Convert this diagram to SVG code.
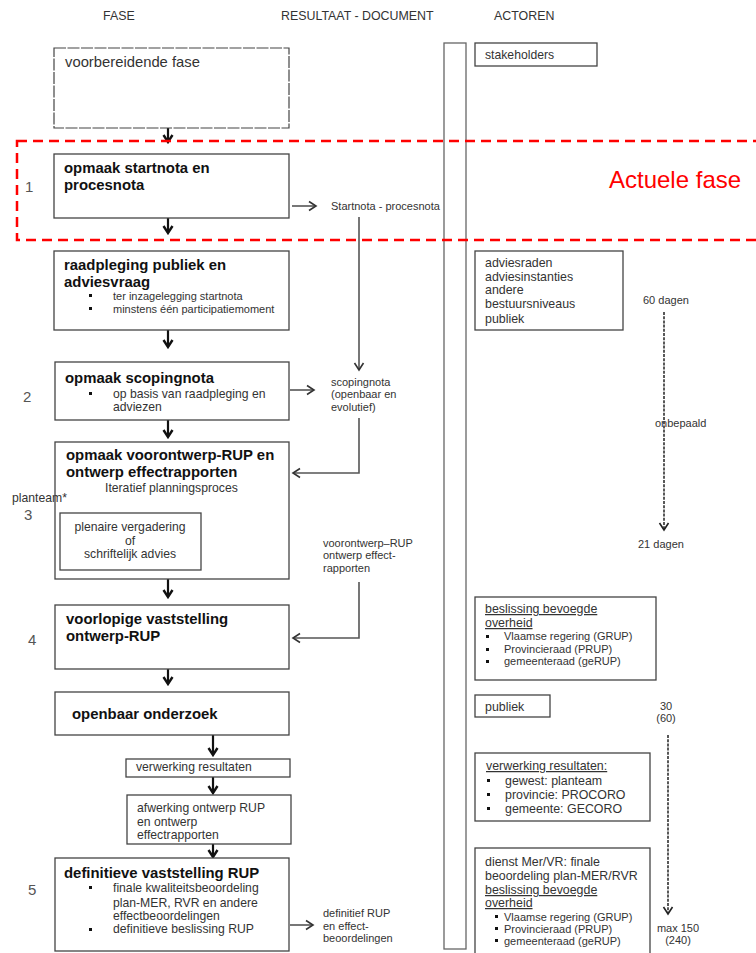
<svg xmlns="http://www.w3.org/2000/svg" width="756" height="953" viewBox="0 0 756 953">
<defs>
<style>
text{font-family:"Liberation Sans",Arial,sans-serif;fill:#2a2a2a}
.hd{font-size:12.4px;fill:#333}
.t{font-size:14.9px;font-weight:bold;fill:#111}
.r14{font-size:14.8px;fill:#333}
.s{font-size:11px;fill:#333}
.m{font-size:12.2px;fill:#333}
.a{font-size:12.4px;fill:#333}
.b{font-size:11px;fill:#333}
.n{font-size:15px;fill:#555}
.box{fill:#fff;stroke:#444;stroke-width:1.3}
.bul{fill:#111}
.main{stroke:#111;stroke-width:2.2;fill:none}
.con{stroke:#555;stroke-width:1.6;fill:none}
.tim{stroke:#222;stroke-width:1.5;stroke-dasharray:3 1.2;fill:none}
</style>
<marker id="hm" viewBox="0 0 12 12" refX="10" refY="6" markerWidth="12" markerHeight="12" orient="auto" markerUnits="userSpaceOnUse">
<path d="M3,1.5 L10,6 L3,10.5" fill="none" stroke="#111" stroke-width="2.4"/>
</marker>
<marker id="hc" viewBox="0 0 12 12" refX="10" refY="6" markerWidth="12" markerHeight="12" orient="auto" markerUnits="userSpaceOnUse">
<path d="M3,1.5 L10,6 L3,10.5" fill="none" stroke="#333" stroke-width="1.6"/>
</marker>
<marker id="ht" viewBox="0 0 12 12" refX="10" refY="6" markerWidth="12" markerHeight="12" orient="auto" markerUnits="userSpaceOnUse">
<path d="M3,1.5 L10,6 L3,10.5" fill="none" stroke="#222" stroke-width="1.6"/>
</marker>
</defs>
<rect width="756" height="953" fill="#fff"/>

<g id="headers">
<text class="hd" x="103" y="20">FASE</text>
<text class="hd" x="281" y="20">RESULTAAT - DOCUMENT</text>
<text class="hd" x="494" y="20">ACTOREN</text>
</g>

<g id="actor-column"><rect x="444" y="43" width="22" height="906" fill="#fff" stroke="#666" stroke-width="1.3"/></g>

<g id="connectors">
<line class="main" x1="168" y1="128" x2="168" y2="142" marker-end="url(#hm)"/>
<line class="main" x1="168" y1="218" x2="168" y2="233" marker-end="url(#hm)"/>
<line class="main" x1="168" y1="330" x2="168" y2="347" marker-end="url(#hm)"/>
<line class="main" x1="168" y1="420" x2="168" y2="437" marker-end="url(#hm)"/>
<line class="main" x1="168" y1="579" x2="168" y2="597" marker-end="url(#hm)"/>
<line class="main" x1="168" y1="669" x2="168" y2="684" marker-end="url(#hm)"/>
<line class="main" x1="213" y1="735" x2="213" y2="755" marker-end="url(#hm)"/>
<line class="main" x1="213" y1="777" x2="213" y2="793" marker-end="url(#hm)"/>
<line class="main" x1="213" y1="844" x2="213" y2="857" marker-end="url(#hm)"/>
<line class="con" x1="292" y1="206" x2="316" y2="206" stroke="#222" marker-end="url(#hc)"/>
<line class="con" x1="290" y1="390" x2="314" y2="390" stroke="#222" marker-end="url(#hc)"/>
<line class="con" x1="290" y1="925" x2="313" y2="925" stroke="#222" marker-end="url(#hc)"/>
<line class="con" x1="359" y1="217" x2="359" y2="370" marker-end="url(#hc)"/>
<polyline class="con" points="359,418 359,473 293,473" marker-end="url(#hc)"/>
<polyline class="con" points="359,582 359,638 293,638" marker-end="url(#hc)"/>
<line class="tim" x1="664" y1="312" x2="664" y2="530" marker-end="url(#ht)"/>
<line class="tim" x1="668" y1="735" x2="668" y2="914" marker-end="url(#ht)"/>
</g>

<g id="voorbereidende-fase">
<rect x="54" y="48" width="235" height="80" fill="#fff" stroke="#444" stroke-width="1.2" stroke-dasharray="12 1.5"/>
<text class="r14" x="65" y="67">voorbereidende fase</text>
</g>

<g id="fase1">
<rect class="box" x="54" y="154" width="235" height="64"/>
<text class="t" x="64" y="173">opmaak startnota en</text>
<text class="t" x="64" y="190">procesnota</text>
<text class="n" x="25" y="192">1</text>
</g>

<g id="startnota-doc"><text class="s" x="331" y="210">Startnota - procesnota</text></g>

<g id="raadpleging">
<rect class="box" x="54" y="251" width="235" height="79"/>
<text class="t" x="64" y="270">raadpleging publiek en</text>
<text class="t" x="64" y="287">adviesvraag</text>
<rect class="bul" x="89" y="294" width="3" height="3"/>
<text class="s" x="113" y="300">ter inzagelegging startnota</text>
<rect class="bul" x="89" y="307" width="3" height="3"/>
<text class="s" x="113" y="313">minstens één participatiemoment</text>
</g>

<g id="fase2">
<rect class="box" x="55" y="362" width="234" height="58"/>
<text class="t" x="65" y="383">opmaak scopingnota</text>
<rect class="bul" x="89" y="392" width="3" height="3"/>
<text class="m" x="113" y="398">op basis van raadpleging en</text>
<text class="m" x="113" y="411">adviezen</text>
<text class="n" x="23" y="402">2</text>
</g>

<g id="scopingnota-doc">
<text class="s" x="331" y="386">scopingnota</text>
<text class="s" x="331" y="398">(openbaar en</text>
<text class="s" x="331" y="411">evolutief)</text>
</g>

<g id="fase3">
<rect class="box" x="55" y="442" width="234" height="137"/>
<text class="t" x="66" y="460">opmaak voorontwerp-RUP en</text>
<text class="t" x="66" y="477">ontwerp effectrapporten</text>
<text class="m" x="105" y="492">Iteratief planningsproces</text>
<text class="m" x="12" y="502">planteam*</text>
<text class="n" x="24" y="520">3</text>
</g>

<g id="plenaire">
<rect class="box" x="60" y="513" width="141" height="57"/>
<text class="m" x="130" y="531" text-anchor="middle">plenaire vergadering</text>
<text class="m" x="130" y="545" text-anchor="middle">of</text>
<text class="m" x="130" y="558" text-anchor="middle">schriftelijk advies</text>
</g>

<g id="voorontwerp-doc">
<text class="s" x="323" y="547">voorontwerp–RUP</text>
<text class="s" x="323" y="559">ontwerp effect-</text>
<text class="s" x="323" y="572">rapporten</text>
</g>

<g id="fase4">
<rect class="box" x="55" y="605" width="234" height="64"/>
<text class="t" x="66" y="624">voorlopige vaststelling</text>
<text class="t" x="66" y="641">ontwerp-RUP</text>
<text class="n" x="28" y="645">4</text>
</g>

<g id="openbaar-onderzoek">
<rect class="box" x="55" y="692" width="234" height="43"/>
<text class="t" x="72" y="719">openbaar onderzoek</text>
</g>

<g id="verwerking-resultaten">
<rect class="box" x="126" y="759" width="164" height="18"/>
<text class="m" x="136" y="771">verwerking resultaten</text>
</g>

<g id="afwerking">
<rect class="box" x="127" y="795" width="164" height="49"/>
<text class="m" x="137" y="812">afwerking ontwerp RUP</text>
<text class="m" x="137" y="826">en ontwerp</text>
<text class="m" x="137" y="839">effectrapporten</text>
</g>

<g id="fase5">
<rect class="box" x="55" y="858" width="234" height="93"/>
<text class="t" x="64" y="878">definitieve vaststelling RUP</text>
<rect class="bul" x="89" y="886" width="3" height="3"/>
<text class="m" x="113" y="892">finale kwaliteitsbeoordeling</text>
<text class="m" x="113" y="907">plan-MER, RVR en andere</text>
<text class="m" x="113" y="920">effectbeoordelingen</text>
<rect class="bul" x="89" y="928" width="3" height="3"/>
<text class="m" x="113" y="933">definitieve beslissing RUP</text>
<text class="n" x="28" y="895">5</text>
</g>

<g id="definitief-doc">
<text class="s" x="323" y="917">definitief RUP</text>
<text class="s" x="323" y="930">en effect-</text>
<text class="s" x="323" y="942">beoordelingen</text>
</g>

<g id="stakeholders">
<rect class="box" x="475" y="43" width="122" height="23"/>
<text class="m" x="485" y="59">stakeholders</text>
</g>

<g id="adviesraden">
<rect class="box" x="475" y="251" width="148" height="79"/>
<text class="a" x="485" y="267">adviesraden</text>
<text class="a" x="485" y="281">adviesinstanties</text>
<text class="a" x="485" y="294">andere</text>
<text class="a" x="485" y="308">bestuursniveaus</text>
<text class="a" x="485" y="323">publiek</text>
</g>

<g id="timing1">
<text class="s" x="643" y="304">60 dagen</text>
<text class="s" x="655" y="427">onbepaald</text>
<text class="s" x="638" y="548">21 dagen</text>
</g>

<g id="beslissing">
<rect class="box" x="475" y="597" width="181" height="83"/>
<text class="a" x="485" y="613" text-decoration="underline">beslissing bevoegde</text>
<text class="a" x="485" y="627" text-decoration="underline">overheid</text>
<rect class="bul" x="486" y="635" width="3" height="3"/>
<text class="b" x="504" y="640">Vlaamse regering (GRUP)</text>
<rect class="bul" x="486" y="648" width="3" height="3"/>
<text class="b" x="504" y="653">Provincieraad (PRUP)</text>
<rect class="bul" x="486" y="660" width="3" height="3"/>
<text class="b" x="504" y="665">gemeenteraad (geRUP)</text>
</g>

<g id="publiek">
<rect class="box" x="475" y="695" width="75" height="22"/>
<text class="a" x="485" y="711">publiek</text>
</g>

<g id="timing2">
<text class="s" x="666" y="710" text-anchor="middle">30</text>
<text class="s" x="666" y="722" text-anchor="middle">(60)</text>
<text class="s" x="678" y="932" text-anchor="middle">max 150</text>
<text class="s" x="678" y="944" text-anchor="middle">(240)</text>
</g>

<g id="verwerking-actoren">
<rect class="box" x="475" y="753" width="175" height="68"/>
<text class="a" x="486" y="770" text-decoration="underline">verwerking resultaten:</text>
<rect class="bul" x="487" y="779" width="3" height="3"/>
<text class="a" x="505" y="785">gewest: planteam</text>
<rect class="bul" x="487" y="793" width="3" height="3"/>
<text class="a" x="505" y="799">provincie: PROCORO</text>
<rect class="bul" x="487" y="807" width="3" height="3"/>
<text class="a" x="505" y="813">gemeente: GECORO</text>
</g>

<g id="dienst-mer">
<rect class="box" x="475" y="848" width="175" height="110"/>
<text class="a" x="485" y="866">dienst Mer/VR: finale</text>
<text class="a" x="485" y="880">beoordeling plan-MER/RVR</text>
<text class="a" x="485" y="894" text-decoration="underline">beslissing bevoegde</text>
<text class="a" x="485" y="907" text-decoration="underline">overheid</text>
<rect class="bul" x="495" y="915" width="3" height="3"/>
<text class="b" x="504" y="921">Vlaamse regering (GRUP)</text>
<rect class="bul" x="495" y="927" width="3" height="3"/>
<text class="b" x="504" y="933">Provincieraad (PRUP)</text>
<rect class="bul" x="495" y="939" width="3" height="3"/>
<text class="b" x="504" y="945">gemeenteraad (geRUP)</text>
</g>

<g id="actuele-fase">
<rect x="17" y="141" width="760" height="99" fill="none" stroke="#f00" stroke-width="2.5" stroke-dasharray="10 6"/>
<text x="609" y="188" style="font-size:24px;fill:#f00">Actuele fase</text>
</g>
</svg>
